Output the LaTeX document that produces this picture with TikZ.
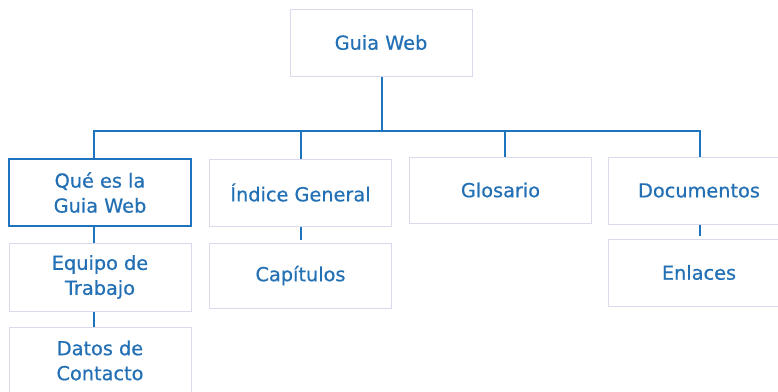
\documentclass[tikz,border=0pt]{standalone}
\usepackage{fontspec}
\setmainfont{DejaVu Sans}[FakeBold=0.6]
\definecolor{txtblue}{HTML}{2370B5}
\definecolor{lineblue}{HTML}{1E73BE}
\definecolor{boxgray}{HTML}{DADAEE}
\begin{document}
\begin{tikzpicture}[x=1pt,y=-1pt,
  box/.style={draw=boxgray, line width=1pt, fill=white, rectangle, minimum width=182pt, inner sep=0pt,
    text=txtblue, align=center, font=\fontsize{19.3pt}{25pt}\selectfont},
  mainbox/.style={box, draw=lineblue, line width=2pt},
  conn/.style={draw=lineblue, line width=2pt}]
\useasboundingbox (0,0) rectangle (778,391);
\fill[white] (0,0) rectangle (778,391);
\clip (0,0) rectangle (778,391);
\node[box, minimum height=67pt] (top) at (381,42.5) {Guia Web};
\node[mainbox, minimum height=67pt] (q) at (100,192.5) {Qué es la\\Guia Web};
\node[box, minimum height=68pt] (e) at (100,277) {Equipo de\\Trabajo};
\node[box, minimum height=67pt] (d) at (100,360.5) {Datos de\\Contacto};
\node[box, minimum height=67pt] (i) at (300.5,192.5) {Índice General};
\node[box, minimum height=65pt] (c) at (300.5,275.5) {Capítulos};
\node[box, minimum height=66pt] (g) at (500.5,190) {Glosario};
\node[box, minimum height=67pt] (doc) at (699,190.5) {Documentos};
\node[box, minimum height=67pt] (enl) at (699,272.5) {Enlaces};
\coordinate (bus) at (382,131);
\draw[conn] ([xshift=1pt]top.south) -- (bus);
\draw[conn] ([xshift=-6pt]q.north) |- (bus) -| ([xshift=4pt]g.north);
\draw[conn] ([xshift=0.5pt]i.north) -- ([xshift=0.5pt]i.north |- bus);
\draw[conn] (bus) -| ([xshift=1pt]doc.north);
\draw[conn] ([xshift=-6pt]q.south) -- ([xshift=-6pt]e.north);
\draw[conn] ([xshift=-6pt]e.south) -- ([xshift=-6pt]d.north);
\draw[conn, shorten >=3pt] ([xshift=0.5pt]i.south) -- ([xshift=0.5pt]c.north);
\draw[conn, shorten >=3pt] ([xshift=1pt]doc.south) -- ([xshift=1pt]enl.north);
\end{tikzpicture}
\end{document}
